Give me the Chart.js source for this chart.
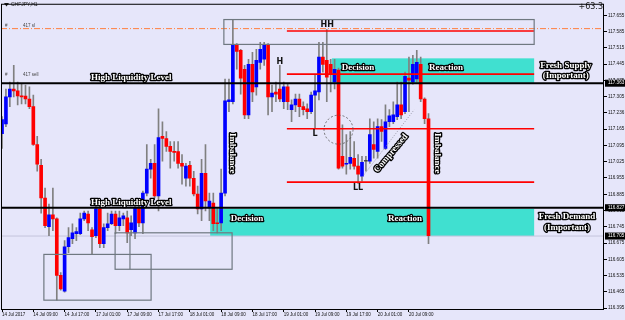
<!DOCTYPE html>
<html>
<head>
<meta charset="utf-8">
<script src="https://cdn.jsdelivr.net/npm/chart.js@4.4.1/dist/chart.umd.min.js"></script>
<style>
  html, body { margin: 0; padding: 0; background: #e6e6fa; }
  #wrap { width: 625px; height: 320px; }
</style>
</head>
<body>
<div id="wrap"><canvas id="chart" width="625" height="320"></canvas></div>
<script>
// ── DATA (CHFJPY H1, one entry per bar) ─────────
const opens = [
  117.146, 117.188, 117.304, 117.338, 117.330, 117.308, 117.308, 117.295, 117.262, 117.099,
  117.010, 116.869, 116.745, 116.796, 116.779, 116.536, 116.468, 116.659, 116.694, 116.715,
  116.715, 116.779, 116.800, 116.732, 116.707, 116.822, 116.672, 116.741, 116.758, 116.800,
  116.750, 116.779, 116.783, 116.732, 116.719, 116.826, 116.762, 116.890, 116.993, 117.018,
  116.878, 117.134, 117.125, 117.091, 117.069, 117.069, 117.018, 116.954, 117.010, 116.954,
  116.886, 116.822, 116.975, 116.826, 116.847, 116.762, 116.762, 116.890, 117.283, 117.283,
  117.530, 117.504, 117.423, 117.227, 117.444, 117.347, 117.453, 117.466, 117.530, 117.304,
  117.325, 117.338, 117.283, 117.347, 117.249, 117.270, 117.295, 117.262, 117.253, 117.240,
  117.312, 117.325, 117.475, 117.462, 117.444, 117.368, 117.419, 117.048, 117.014, 117.018,
  117.040, 117.006, 116.963, 117.027, 117.027, 117.099, 117.069, 117.176, 117.082, 117.197,
  117.197, 117.219, 117.270, 117.240, 117.385, 117.368, 117.381, 117.444, 117.295, 117.210
];
const highs = [
  117.219, 117.338, 117.368, 117.440, 117.368, 117.359, 117.355, 117.347, 117.312, 117.134,
  117.035, 116.911, 116.843, 116.911, 116.783, 116.548, 116.685, 116.741, 116.758, 116.741,
  116.804, 116.813, 116.813, 116.741, 116.835, 116.835, 116.758, 116.804, 116.813, 116.813,
  116.813, 116.804, 116.813, 116.792, 116.835, 116.856, 116.899, 117.099, 117.035, 117.099,
  117.253, 117.197, 117.155, 117.112, 117.112, 117.112, 117.056, 117.018, 117.027, 116.984,
  116.920, 117.035, 117.099, 116.890, 116.890, 116.822, 116.993, 117.381, 117.381, 117.637,
  117.534, 117.509, 117.440, 117.466, 117.496, 117.509, 117.539, 117.539, 117.534, 117.355,
  117.368, 117.440, 117.368, 117.359, 117.291, 117.316, 117.316, 117.283, 117.274, 117.325,
  117.398, 117.539, 117.539, 117.594, 117.466, 117.466, 117.428, 117.184, 117.142, 117.155,
  117.112, 117.056, 117.048, 117.048, 117.210, 117.197, 117.210, 117.206, 117.270, 117.249,
  117.283, 117.368, 117.368, 117.411, 117.475, 117.483, 117.504, 117.475, 117.300, 117.232
];
const lows = [
  117.082, 117.176, 117.262, 117.304, 117.270, 117.274, 117.274, 117.253, 117.095, 116.984,
  116.804, 116.741, 116.707, 116.728, 116.429, 116.472, 116.463, 116.634, 116.672, 116.685,
  116.711, 116.771, 116.728, 116.626, 116.698, 116.655, 116.655, 116.728, 116.754, 116.715,
  116.728, 116.750, 116.677, 116.707, 116.694, 116.745, 116.715, 116.878, 116.954, 116.869,
  116.813, 117.027, 117.069, 116.997, 117.027, 116.997, 116.928, 116.920, 116.920, 116.878,
  116.800, 116.771, 116.813, 116.771, 116.728, 116.719, 116.728, 116.878, 117.240, 117.274,
  117.423, 117.316, 117.210, 117.210, 117.283, 117.312, 117.423, 117.440, 117.227, 117.240,
  117.283, 117.283, 117.253, 117.249, 117.197, 117.240, 117.219, 117.227, 117.210, 117.232,
  117.167, 117.291, 117.411, 117.283, 117.325, 117.338, 116.993, 116.997, 116.971, 116.993,
  116.993, 116.932, 116.941, 116.984, 117.018, 117.040, 117.040, 117.112, 117.078, 117.176,
  117.189, 117.206, 117.210, 117.232, 117.240, 117.359, 117.368, 117.283, 117.189, 116.672
];
const closes = [
  117.206, 117.304, 117.338, 117.330, 117.308, 117.304, 117.295, 117.262, 117.099, 117.014,
  116.869, 116.750, 116.796, 116.779, 116.536, 116.477, 116.659, 116.698, 116.719, 116.724,
  116.779, 116.804, 116.762, 116.702, 116.822, 116.672, 116.741, 116.758, 116.800, 116.750,
  116.783, 116.792, 116.719, 116.762, 116.826, 116.762, 116.890, 116.993, 117.018, 116.878,
  117.129, 117.125, 117.091, 117.069, 117.065, 117.018, 117.006, 117.006, 116.954, 116.886,
  116.822, 116.975, 116.856, 116.856, 116.758, 116.758, 116.890, 117.287, 117.291, 117.530,
  117.500, 117.385, 117.227, 117.444, 117.325, 117.462, 117.509, 117.530, 117.304, 117.321,
  117.316, 117.295, 117.347, 117.283, 117.270, 117.295, 117.262, 117.249, 117.240, 117.312,
  117.330, 117.475, 117.444, 117.389, 117.402, 117.423, 116.997, 117.006, 117.018, 117.044,
  117.006, 116.971, 117.022, 117.027, 117.142, 117.078, 117.176, 117.155, 117.197, 117.223,
  117.227, 117.270, 117.227, 117.393, 117.376, 117.444, 117.453, 117.295, 117.210, 116.707
];

// time axis: a label every 8 bars
const tickBars   = [0, 8, 16, 24, 32, 40, 48, 56, 64, 72, 80, 88, 96, 104];
const timeLabels = ['14 Jul 2017', '14 Jul 09:00', '14 Jul 17:00', '17 Jul 01:00', '17 Jul 09:00',
  '17 Jul 17:00', '18 Jul 01:00', '18 Jul 09:00', '18 Jul 17:00', '19 Jul 01:00', '19 Jul 09:00',
  '19 Jul 17:00', '20 Jul 01:00', '20 Jul 09:00'];

// price axis
const priceTicks = [116.395, 116.465, 116.535, 116.605, 116.675, 116.745, 116.815, 116.885, 116.955,
  117.025, 117.095, 117.165, 117.235, 117.305, 117.375, 117.445, 117.515, 117.585, 117.655];
const priceTickLabels = ['116.395', '116.465', '116.535', '116.605', '116.675', '116.745', '116.815',
  '116.885', '116.955', '117.025', '117.095', '117.165', '117.236', '117.305', '117.375', '117.445',
  '117.515', '117.585', '117.655'];
const markedPrices = [117.363, 116.827, 116.705];

// ── ANNOTATIONS (bar index / price) ─────────────
const liquidityLevels = [117.363, 116.827];
const slLevel = 117.598;
const structureLevels = [117.588, 117.402, 117.167, 116.937];   // HH, H, L, LL
const structureSpan = [72.8, 136];
const zones = [
  { from: 84.3, to: 136, top: 117.470, bottom: 117.365 },
  { from: 53.2, to: 136, top: 116.822, bottom: 116.705 }
];
const boxes = [
  { from: 56.7, to: 136, top: 117.637, bottom: 117.530 },
  { from: 10.7, to: 38.1, top: 116.626, bottom: 116.429 },
  { from: 28.9, to: 58.8, top: 116.719, bottom: 116.562 }
];
const labels = [
  { t: 'High Liquidity Level', i: 33.0, p: 117.385 },
  { t: 'High Liquidity Level', i: 33.0, p: 116.847 },
  { t: 'Decision', i: 91.0, p: 117.428 },
  { t: 'Reaction', i: 113.5, p: 117.428 },
  { t: 'Fresh Supply', i: 144.1, p: 117.440 },
  { t: '(Important)', i: 144.1, p: 117.394 },
  { t: 'Decision', i: 62.6, p: 116.779 },
  { t: 'Reaction', i: 103.0, p: 116.779 },
  { t: 'Fresh Demand', i: 144.4, p: 116.788 },
  { t: '(Important)', i: 144.4, p: 116.741 },
  { t: 'Imbalance', i: 58.8, p: 117.061, rot: 90 },
  { t: 'Imbalance', i: 111.2, p: 117.061, rot: 90 },
  { t: 'Compressed', i: 99.4, p: 117.061, rot: -50 }
];
const pivots = [
  { t: 'HH', i: 83.1, p: 117.615 },
  { t: 'H', i: 71.0, p: 117.453 },
  { t: 'L', i: 80.0, p: 117.146 },
  { t: 'LL', i: 91.0, p: 116.911 }
];

// ── STYLE ───────────────────────────────────────
const BG = '#e6e6fa';
const UP = '#0000ff', DOWN = '#ff0000', DOJI = '#444';
const TEAL = '#40e0d0';
const AXIS_FONT = 'Liberation Sans';

const bars = opens.map((_, i) => i);
const bodyColors = opens.map((o, i) => closes[i] > o ? UP : (closes[i] < o ? DOWN : DOJI));

function outlined(c, text, x, y, rot) {
  c.save();
  c.translate(x, y);
  c.rotate((rot || 0) * Math.PI / 180);
  c.font = 'bold 9px "Liberation Serif"';
  c.textAlign = 'center';
  c.textBaseline = 'middle';
  c.lineJoin = 'round';
  c.lineWidth = 2.6;
  c.strokeStyle = '#000';
  c.strokeText(text, 0, 0);
  c.fillStyle = '#fff';
  c.fillText(text, 0, 0);
  c.restore();
}

function hline(c, x0, x1, yy, color, w, dash) {
  c.save();
  c.strokeStyle = color;
  c.lineWidth = w;
  c.setLineDash(dash || []);
  c.beginPath();
  c.moveTo(x0, yy);
  c.lineTo(x1, yy);
  c.stroke();
  c.restore();
}

// ── OVERLAY PLUGIN ──────────────────────────────
const overlay = {
  id: 'overlay',
  beforeDraw(chart) {
    const c = chart.ctx;
    c.save();
    c.fillStyle = BG;
    c.fillRect(0, 0, chart.width, chart.height);
    c.restore();
  },
  beforeDatasetsDraw(chart) {
    const { ctx: c, chartArea: a, scales: { x, y } } = chart;
    c.save();
    c.beginPath();
    c.rect(a.left, a.top, a.right - a.left, a.bottom - a.top);
    c.clip();
    zones.forEach(z => {
      const x0 = x.getPixelForValue(z.from), x1 = x.getPixelForValue(z.to);
      const y0 = y.getPixelForValue(z.top), y1 = y.getPixelForValue(z.bottom);
      c.fillStyle = TEAL;
      c.fillRect(x0, y0, x1 - x0, y1 - y0);
    });
    hline(c, a.left, a.right, y.getPixelForValue(116.705), '#c4c4dc', 1);
    hline(c, a.left, a.right, y.getPixelForValue(slLevel), '#ff7f3f', 1, [6, 2, 1, 2]);
    c.restore();
  },
  afterDatasetsDraw(chart) {
    const { ctx: c, chartArea: a, scales: { x, y } } = chart;
    c.save();

    // liquidity levels
    liquidityLevels.forEach(p => hline(c, a.left, a.right, y.getPixelForValue(p), '#000', 2));

    // market structure lines
    const sx0 = x.getPixelForValue(structureSpan[0]), sx1 = x.getPixelForValue(structureSpan[1]);
    structureLevels.forEach(p => hline(c, sx0, sx1, y.getPixelForValue(p), '#ff0000', 1.6));

    // grey boxes
    c.strokeStyle = '#6f7880';
    c.lineWidth = 1.2;
    boxes.forEach(b => {
      const x0 = x.getPixelForValue(b.from), x1 = x.getPixelForValue(b.to);
      const y0 = y.getPixelForValue(b.top), y1 = y.getPixelForValue(b.bottom);
      c.strokeRect(x0, y0, x1 - x0, y1 - y0);
    });
    c.beginPath();
    c.moveTo(x.getPixelForValue(32.7), y.getPixelForValue(116.719));
    c.lineTo(x.getPixelForValue(32.7), y.getPixelForValue(116.562));
    c.stroke();

    // dotted circle at the break of L
    c.strokeStyle = '#555';
    c.lineWidth = 0.8;
    c.setLineDash([2, 2]);
    c.beginPath();
    c.arc(x.getPixelForValue(86.0), y.getPixelForValue(117.163), 14.5, 0, Math.PI * 2);
    c.stroke();

    // compression trend line
    c.strokeStyle = '#8a8a9a';
    c.setLineDash([1, 1.5]);
    c.beginPath();
    c.moveTo(x.getPixelForValue(92.0), y.getPixelForValue(116.958));
    c.lineTo(x.getPixelForValue(105.3), y.getPixelForValue(117.248));
    c.stroke();
    c.setLineDash([]);

    // text labels
    labels.forEach(l => outlined(c, l.t, x.getPixelForValue(l.i), y.getPixelForValue(l.p), l.rot));
    c.font = 'bold 8px "DejaVu Sans"';
    c.textAlign = 'center';
    c.textBaseline = 'middle';
    c.fillStyle = '#111';
    pivots.forEach(pv => c.fillText(pv.t, x.getPixelForValue(pv.i), y.getPixelForValue(pv.p)));

    // small level tags
    c.font = '4.5px "' + AXIS_FONT + '"';
    c.textAlign = 'left';
    c.fillStyle = '#444';
    [[slLevel, '417 sl'], [117.385, '417 sell']].forEach(([p, t]) => {
      const yy = y.getPixelForValue(p) - 3;
      c.fillText('#', a.left + 4, yy);
      c.fillText(t, a.left + 22, yy);
    });

    // header
    c.fillStyle = '#222';
    c.beginPath();
    c.moveTo(a.left + 3, 3); c.lineTo(a.left + 8, 3); c.lineTo(a.left + 5.5, 6.5); c.closePath();
    c.fill();
    c.font = '5px "' + AXIS_FONT + '"';
    c.fillText('CHFJPY,H1', a.left + 10, 5);
    c.font = '8px "DejaVu Sans"';
    c.textAlign = 'right';
    c.fillText('+63.3', a.right - 1, 7);

    // frame
    c.strokeStyle = '#000';
    c.lineWidth = 1;
    c.strokeRect(a.left + 0.5, a.top + 0.5, a.right - a.left - 1, a.bottom - a.top);

    // price tags on the axis
    c.font = '4.6px "' + AXIS_FONT + '"';
    c.textAlign = 'left';
    markedPrices.forEach(p => {
      const yy = y.getPixelForValue(p);
      c.fillStyle = '#000';
      c.fillRect(a.right + 1, yy - 3.5, chart.width - a.right - 1, 7);
      c.fillStyle = '#fff';
      c.fillText(p.toFixed(3), a.right + 4, yy);
    });
    c.restore();
  }
};

// ── CHART ───────────────────────────────────────
new Chart(document.getElementById('chart'), {
  type: 'bar',
  data: {
    datasets: [
      {
        label: 'body',
        data: bars.map(i => ({ x: i, y: [opens[i], closes[i]] })),
        backgroundColor: bodyColors,
        grouped: false,
        barPercentage: 1,
        categoryPercentage: 1,
        maxBarThickness: 3,
        minBarLength: 1,
        order: 0
      },
      {
        label: 'wick',
        data: bars.map(i => ({ x: i, y: [lows[i], highs[i]] })),
        backgroundColor: '#808080',
        grouped: false,
        barPercentage: 1,
        categoryPercentage: 1,
        maxBarThickness: 1,
        order: 1
      }
    ]
  },
  options: {
    responsive: false,
    animation: false,
    devicePixelRatio: 1,
    layout: { padding: { left: 1, top: 1, right: 0, bottom: 0 } },
    plugins: { legend: { display: false }, tooltip: { enabled: false } },
    scales: {
      x: {
        type: 'linear',
        min: -0.26,
        max: 153.85,
        offset: false,
        grid: { drawOnChartArea: false, offset: false, tickLength: 3, color: '#000' },
        border: { display: false },
        ticks: {
          autoSkip: false,
          maxRotation: 0,
          align: 'start',
          padding: 0,
          color: '#111',
          font: { size: 4.5, family: AXIS_FONT },
          callback: (v, i) => timeLabels[i]
        },
        afterBuildTicks: s => { s.ticks = tickBars.map(v => ({ value: v })); },
        afterFit: s => { s.height = 11; }
      },
      y: {
        position: 'right',
        min: 116.391,
        max: 117.705,
        grid: { drawOnChartArea: false, tickLength: 3, color: '#000' },
        border: { display: false },
        ticks: {
          padding: 1,
          color: '#111',
          font: { size: 4.6, family: AXIS_FONT },
          callback: (v, i) => priceTickLabels[i]
        },
        afterBuildTicks: s => { s.ticks = priceTicks.map(v => ({ value: v })); },
        afterFit: s => { s.width = 21; }
      }
    }
  },
  plugins: [overlay]
});
</script>
</body>
</html>
